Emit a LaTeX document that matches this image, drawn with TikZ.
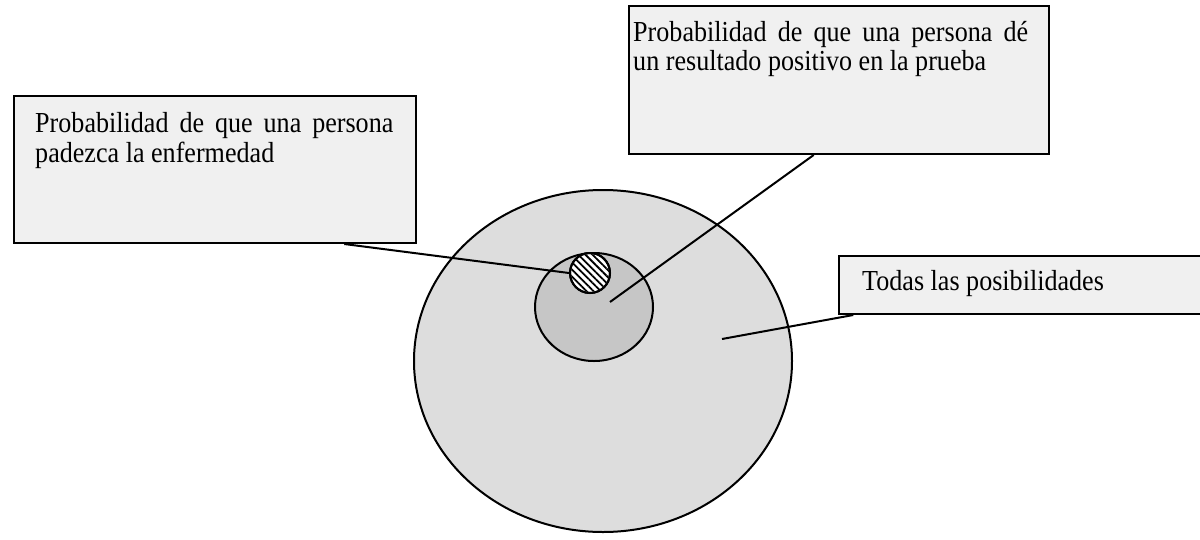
\documentclass[tikz,border=0pt]{standalone}
\usepackage{fontspec}
\setmainfont{Liberation Serif}
\usetikzlibrary{patterns.meta,calc,shapes.geometric}
\newcommand{\wtxt}[1]{\scalebox{0.9}[1]{#1}}
\begin{document}
\begin{tikzpicture}[x=1pt,y=-1pt,
  callout/.style={draw=black, line width=2pt, fill=gray!12, inner sep=0pt, anchor=north west},
  lbl/.style={anchor=base west, inner sep=0pt, font=\fontsize{29}{30}\selectfont},
  region/.style={draw=black, line width=2pt},
  leader/.style={draw=black, line width=2pt}]
\useasboundingbox (0,0) rectangle (1200,539);
\clip (0,0) rectangle (1200,539);
\fill[white] (0,0) rectangle (1200,539);
% regions
\node[region, ellipse, fill=gray!27, minimum width=378, minimum height=342, inner sep=0pt] (all) at (603,361) {};
\node[region, ellipse, fill=gray!45, minimum width=118, minimum height=108, inner sep=0pt] (pos) at (594,307) {};
\node[region, circle, fill=white, minimum size=40, inner sep=0pt] (dis) at (590,273) {};
\fill[pattern={Lines[angle=-45,distance=5pt,line width=1.8pt]}] (dis.center) circle[radius=19];
\draw[region] (dis.center) circle[radius=20];
% callout boxes
\fill[gray!50] (15,97) rectangle (417,244);
\fill[gray!50] (630,7) rectangle (1050,155);
\fill[gray!50] (840,257) rectangle (1220,315);
\node[callout, minimum width=402, minimum height=147] (b1) at (13,95) {};
\node[callout, minimum width=420, minimum height=148] (b2) at (628,5) {};
\node[callout, minimum width=380, minimum height=58] (b3) at (838,255) {};
% texts
\node[lbl] (t1a) at (35,132) {\wtxt{\makebox[398pt][s]{Probabilidad de que una persona}}};
\node[lbl] (t1b) at (35,162) {\wtxt{padezca la enfermedad}};
\node[lbl] (t2a) at (633,41) {\wtxt{\makebox[439pt][s]{Probabilidad de que una persona dé}}};
\node[lbl] (t2b) at (633,70) {\wtxt{un resultado positivo en la prueba}};
\node[lbl] (t3) at (862,290) {\wtxt{Todas las posibilidades}};
% leaders
\coordinate (e2) at (610,302);
\coordinate (e3) at (722,339);
\draw[leader] ($(b1.south west)!0.82!(b1.south east)$) -- (dis.west);
\draw[leader] ($(b2.south west)!0.44!(b2.south east)$) -- (e2);
\draw[leader] ($(b3.south west)!0.04!(b3.south east)$) -- (e3);
\end{tikzpicture}
\end{document}
